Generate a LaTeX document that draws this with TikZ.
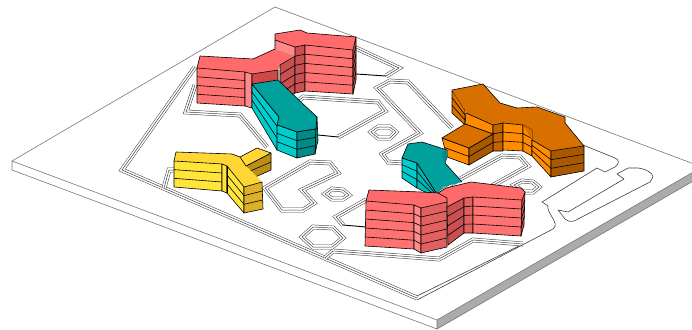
\documentclass[tikz,border=0pt]{standalone}
\usetikzlibrary{calc}
\definecolor{redroof}{HTML}{FF6B6B}\definecolor{redfront}{HTML}{FF7272}\definecolor{redlite}{HTML}{FF8A8A}\definecolor{redmid}{HTML}{E26060}\definecolor{reddark}{HTML}{C85050}
\definecolor{tealroof}{HTML}{00A09C}\definecolor{tealfront}{HTML}{00CCCC}\definecolor{tealmid}{HTML}{00B8B4}\definecolor{tealdark}{HTML}{008A88}
\definecolor{orroof}{HTML}{D87000}\definecolor{orfront}{HTML}{FF8C00}\definecolor{ormid}{HTML}{C26400}\definecolor{ordark}{HTML}{A85800}
\definecolor{yeroof}{HTML}{FFD633}\definecolor{yefront}{HTML}{FFE53A}\definecolor{yedark}{HTML}{DDB02A}\definecolor{yeback}{HTML}{B98F1A}
\definecolor{platehl}{HTML}{777777}
\tikzset{
 edge/.style={draw=black,line width=0.6pt,line join=round},
 plate/.style={draw=platehl,line width=0.6pt,line join=round},
 roadA/.style={draw=black!75,line width=4.6pt,line join=miter},
 roadB/.style={draw=white,line width=3.6pt,line join=miter},
 roadC/.style={draw=black!75,line width=0.5pt,line join=miter},
 thin road/.style={draw=black!75,line width=0.6pt,line join=round},
 link/.style={draw=black,line width=0.9pt},
}
\newcommand{\road}[1]{\draw[roadA] #1; \draw[roadB] #1; \draw[roadC] #1;}
% wall: colour, four corners (top left, top right, bottom right, bottom left), number of floors
\newcommand{\wall}[6]{%
 \fill[#1] #2 -- #3 -- #4 -- #5 -- cycle;
 \ifnum#6>1 \foreach \k in {1,...,\numexpr#6-1\relax}{\draw[edge] ($#2!\k/#6!#5$) -- ($#3!\k/#6!#4$);}\fi
 \draw[edge] #2 -- #3 -- #4 -- #5 -- cycle;}
\begin{document}
\begin{tikzpicture}[x=1pt,y=-1pt]
\clip (0,0) rectangle (692,329);
\fill[white] (0,0) rectangle (692,329);
% base plate
\fill[white] (275,7) -- (702,167) -- (437,320) -- (12,161) -- cycle;
\fill[black!33] (437,320) -- (702,167) -- (702,176) -- (437,329) -- cycle;
\draw[plate] (275,7) -- (702,167) -- (437,320) -- (12,161) -- cycle;
\draw[plate] (12,161) -- (12,170) -- (437,329) -- (437,320);
\draw[plate] (437,329) -- (702,176);
% roads
\road{(195,67) -- (122,170) -- (417,298)}
\draw[thin road] (417,296) -- (523,244);
\road{(523,244) -- (473,240) -- (439,259) -- (333,251) -- (325,258)}
\road{(164,188) -- (169,170) -- (178,170)}
\road{(195,85) -- (186,112) -- (240,115) -- (267,147)}
\road{(265,188) -- (310,162) -- (330,163) -- (338,173) -- (302,190) -- (314,203) -- (303,210) -- (282,210) -- cycle}
\road{(325,194) -- (332,189) -- (343,190) -- (349,195) -- (343,199) -- (332,199) -- cycle}
\road{(302,237) -- (313,227) -- (333,228) -- (343,238) -- (332,247) -- (313,247) -- cycle}
\road{(366,200) -- (336,217) -- (343,225)}
\draw[link] (343,225) -- (366,227);
\road{(297,102) -- (303,97) -- (378,102) -- (385,111) -- (338,137)}
\draw[link] (318,135) -- (338,137);
\road{(356,48) -- (399,68) -- (386,76)}
\draw[link] (356,74) -- (386,76);
\road{(452,128) -- (408,82) -- (390,81) -- (377,88) -- (420,133) -- (382,154) -- (388,162) -- (403,163)}
\road{(371,132) -- (378,127) -- (390,127) -- (396,132) -- (390,138) -- (378,138) -- cycle}
\road{(440,190) -- (502,156) -- (520,157) -- (528,166) -- (490,187)}
\road{(514,185) -- (522,181) -- (533,182) -- (539,187) -- (533,192) -- (523,192) -- cycle}
\draw[thin road] (417,300) -- (553,229) .. controls (557,226) and (555,222) .. (552,217) .. controls (549,212) and (547,208) .. (548,206) -- (542,202) -- (597,168) -- (605,172) -- (615,167) .. controls (619,164) and (620,160) .. (615,158) -- (583,145);
\draw[thin road] (558,210) -- (568,212) -- (624,179) -- (617,174) -- (628,168) -- (638,168) .. controls (646,169) and (653,173) .. (653,177) -- (650,182) -- (574,221) .. controls (570,222) and (567,221) .. (565,219) -- cycle;
% red upper building
\fill[redroof] (200,56) -- (253,59) -- (275,49) -- (275,34) -- (300,30) -- (307,33) -- (356,37) -- (353,50) -- (295,47) -- (295,55) -- (280,65) -- (278,70) -- (252,74) -- (245,72) -- (197,68) -- cycle;
\fill[redlite] (275,40) -- (295,47) -- (295,56) -- (275,49) -- cycle;
\draw[edge] (200,56) -- (253,59) -- (275,49) -- (275,34) -- (300,30) -- (307,33) -- (356,37);
\draw[edge] (200,56) -- (197,68);
\draw[edge] (275,40) -- (295,47);
\wall{redfront}{(197,68)}{(245,72)}{(245,106)}{(197,103)}{4}
\wall{redlite}{(245,72)}{(252,74)}{(252,108)}{(245,106)}{1}
\wall{reddark!90!red}{(252,74)}{(278,70)}{(278,90)}{(252,94)}{1}
\wall{reddark}{(280,65)}{(295,56)}{(295,93)}{(280,103)}{4}
\wall{reddark}{(295,47)}{(305,45)}{(305,91)}{(295,93)}{5}
\wall{redfront}{(305,45)}{(353,50)}{(353,94)}{(305,91)}{5}
\wall{reddark}{(353,50)}{(356,37)}{(356,80)}{(353,94)}{5}
% teal building 1
\wall{tealfront}{(252,84)}{(279,117)}{(277,150)}{(252,108)}{3}
\fill[tealroof] (252,84) -- (278,80) -- (302,103) -- (317,117) -- (316,129) -- (297,132) -- (277,125) -- (279,117) -- cycle;
\draw[edge] (252,84) -- (278,80) -- (302,103) -- (317,117) -- (316,129) -- (297,132) -- (277,125) -- (279,117) -- cycle;
\wall{tealfront}{(277,125)}{(297,132)}{(297,158)}{(277,150)}{3}
\wall{tealdark}{(297,132)}{(316,129)}{(315,154)}{(297,158)}{3}
\wall{tealdark}{(316,129)}{(317,117)}{(318,140)}{(315,154)}{1}
% yellow building
\fill[yeback] (246,166) -- (271,153) -- (271,170) -- (253,178) -- cycle;
\draw[edge] (246,166) -- (271,153) -- (271,170) -- (253,178) -- cycle;
\draw[edge] (248,172) -- (271,162);
\fill[yeroof] (176,152) -- (232,154) -- (240,157) -- (257,148) -- (271,153) -- (246,166) -- (262,182) -- (244,187) -- (227,166) -- (222,164) -- (174,161) -- cycle;
\draw[edge] (176,152) -- (232,154) -- (240,157) -- (257,148) -- (271,153) -- (246,166) -- (240,157);
\draw[edge] (176,152) -- (174,161);
\wall{yefront}{(174,161)}{(222,164)}{(222,191)}{(174,187)}{3}
\wall{yefront!85!yeroof}{(222,164)}{(227,166)}{(227,193)}{(222,191)}{1}
\wall{yefront}{(227,166)}{(244,187)}{(244,213)}{(227,193)}{3}
\wall{yedark}{(244,187)}{(262,182)}{(263,209)}{(244,213)}{3}
\draw[line width=0.9pt] (227,166) -- (227,193);
% orange building
\wall{orroof}{(452,90)}{(465,110)}{(465,125)}{(452,113)}{3}
\fill[orroof] (452,90) -- (483,84) -- (500,103) -- (517,108) -- (537,107) -- (565,117) -- (565,123) -- (584,146) -- (551,151) -- (532,140) -- (523,125) -- (503,123) -- (493,125) -- (467,114) -- (465,110) -- cycle;
\draw[edge] (452,90) -- (483,84) -- (500,103) -- (517,108) -- (537,107) -- (565,117) -- (565,123) -- (584,146);
\wall{orfront}{(466,113)}{(493,125)}{(493,134)}{(465,124)}{1}
\wall{ormid}{(493,125)}{(503,123)}{(503,151)}{(493,151)}{3}
\wall{orfront}{(503,123)}{(523,125)}{(523,151)}{(503,150)}{3}
\wall{orfront}{(523,125)}{(532,130)}{(532,156)}{(523,151)}{3}
\wall{orfront}{(532,140)}{(551,151)}{(551,177)}{(532,156)}{3}
\wall{ordark}{(551,151)}{(584,146)}{(584,171)}{(551,177)}{3}
\fill[orroof] (532,130) -- (532,140) -- (523,125) -- cycle;
\wall{orfront}{(442,138)}{(469,148)}{(469,165)}{(447,157)}{2}
\wall{ordark}{(469,148)}{(493,134)}{(493,151)}{(469,165)}{2}
\fill[orroof] (442,138) -- (465,124) -- (493,134) -- (469,148) -- cycle;
\draw[edge] (442,138) -- (465,124) -- (493,134) -- (469,148) -- cycle;
% teal building 2
\wall{tealfront}{(402,158)}{(417,163)}{(417,188)}{(402,178)}{3}
\wall{tealmid}{(417,163)}{(437,194)}{(435,197)}{(417,188)}{3}
\fill[tealroof] (402,158) -- (408,144) -- (422,142) -- (447,150) -- (447,157) -- (445,163) -- (462,182) -- (443,187) -- (437,194) -- (417,163) -- cycle;
\draw[edge] (402,158) -- (408,144) -- (422,142) -- (447,150) -- (447,157) -- (445,163) -- (462,182);
\draw[edge] (402,158) -- (417,163) -- (437,194);
\fill[tealdark] (447,150) -- (447,157) -- (445,163) -- (441,153) -- cycle;
% red lower building
\fill[redroof] (369,190) -- (421,192) -- (438,193) -- (446,188) -- (471,182) -- (521,188) -- (525,192) -- (522,200) -- (473,197) -- (464,198) -- (447,207) -- (447,202) -- (421,208) -- (414,205) -- (366,201) -- cycle;
\draw[edge] (369,190) -- (421,192) -- (438,193) -- (446,188) -- (471,182) -- (521,188) -- (525,192);
\draw[edge] (369,190) -- (366,201);
\draw[edge] (438,193) -- (447,198) -- (447,202);
\wall{redfront}{(366,201)}{(414,205)}{(414,249)}{(365,246)}{5}
\wall{redlite}{(414,205)}{(421,208)}{(421,253)}{(414,249)}{5}
\wall{redmid}{(421,208)}{(447,202)}{(447,247)}{(421,253)}{5}
\wall{reddark}{(447,207)}{(464,198)}{(464,233)}{(448,245)}{4}
\wall{redmid}{(464,198)}{(473,197)}{(473,233)}{(464,233)}{4}
\wall{redfront}{(473,197)}{(522,200)}{(521,236)}{(473,233)}{4}
\wall{reddark}{(522,200)}{(525,192)}{(524,225)}{(521,236)}{4}
\end{tikzpicture}
\end{document}
